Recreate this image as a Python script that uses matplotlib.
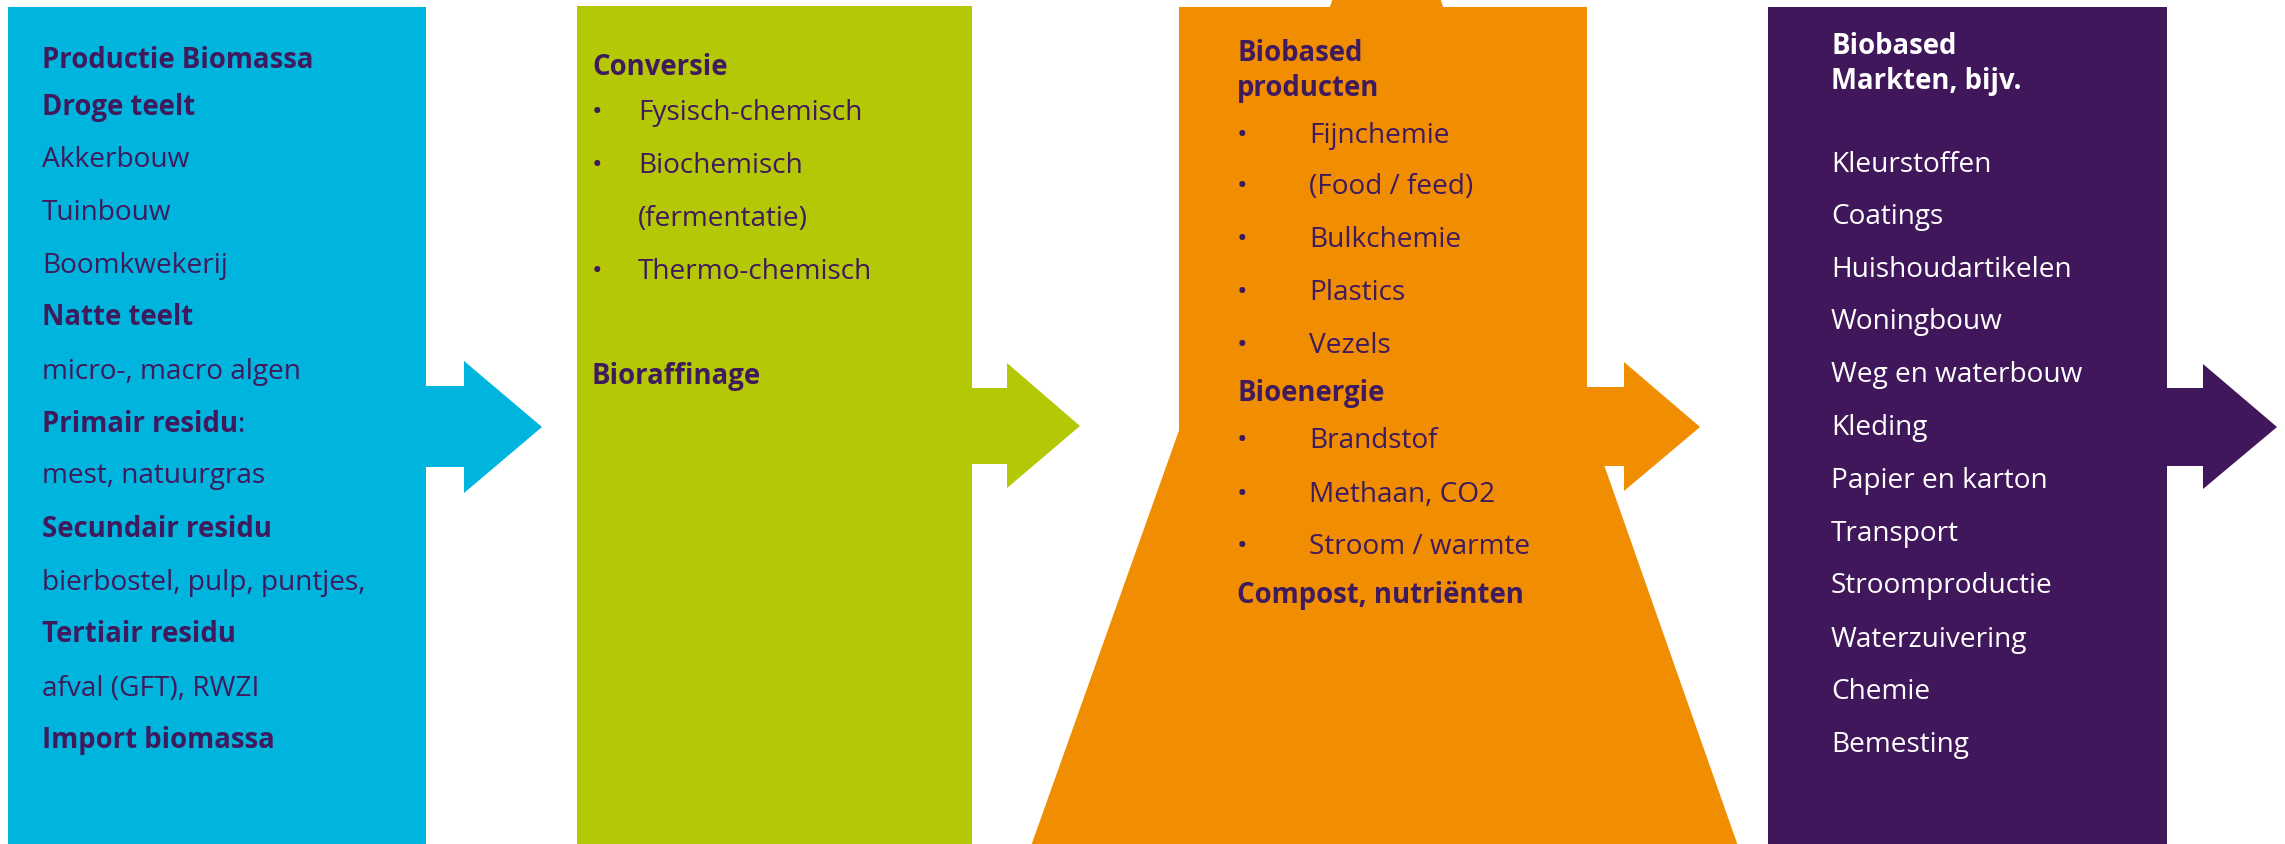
import matplotlib
matplotlib.use("Agg")
import matplotlib.pyplot as plt
from matplotlib.patches import Polygon, Rectangle

W, H = 2285, 844
BLUE = "#00B5DD"
GREEN = "#B4C805"
ORANGE = "#F18D00"
PURPLE = "#3F175A"
TXT = "#3F1A5C"
FONT = "Open Sans"
FS = 20.2
FSB = 19.8

# column texts: (text, style) where style is 'b' bold, 'r' regular, 'i' bullet item
col1 = [("Productie Biomassa", "b"), ("Droge teelt", "b"), ("Akkerbouw", "r"),
        ("Tuinbouw", "r"), ("Boomkwekerij", "r"), ("Natte teelt", "b"),
        ("micro-, macro algen", "r"), ("Primair residu", "b:"),
        ("mest, natuurgras", "r"), ("Secundair residu", "b"),
        ("bierbostel, pulp, puntjes,", "r"), ("Tertiair residu", "b"),
        ("afval (GFT), RWZI", "r"), ("Import biomassa", "b")]
col1_y = [68, 115, 167, 220, 273, 325, 379, 432, 483, 537, 590, 642, 696, 748]

col2 = [("Conversie", "b"), ("Fysisch-chemisch", "i"), ("Biochemisch", "i"),
        ("(fermentatie)", "c"), ("Thermo-chemisch", "i"), ("Bioraffinage", "b")]
col2_y = [75, 120, 173, 226, 279, 384]

col3 = [("Biobased", "b"), ("producten", "b"), ("Fijnchemie", "i"),
        ("(Food / feed)", "i"), ("Bulkchemie", "i"), ("Plastics", "i"),
        ("Vezels", "i"), ("Bioenergie", "b"), ("Brandstof", "i"),
        ("Methaan, CO2", "i"), ("Stroom / warmte", "i"),
        ("Compost, nutriënten", "b")]
col3_y = [61, 96, 143, 194, 247, 300, 353, 401, 448, 502, 554, 603]

col4 = [("Biobased", "b"), ("Markten, bijv.", "b"), ("Kleurstoffen", "r"),
        ("Coatings", "r"), ("Huishoudartikelen", "r"), ("Woningbouw", "r"),
        ("Weg en waterbouw", "r"), ("Kleding", "r"), ("Papier en karton", "r"),
        ("Transport", "r"), ("Stroomproductie", "r"), ("Waterzuivering", "r"),
        ("Chemie", "r"), ("Bemesting", "r")]
col4_y = [54, 89, 172, 224, 277, 329, 382, 435, 488, 541, 593, 647, 699, 752]

fig = plt.figure(figsize=(W / 100, H / 100), dpi=100)
ax = fig.add_axes([0, 0, 1, 1])
ax.set_xlim(0, W)
ax.set_ylim(H, 0)
ax.axis("off")


def arrow(x0, x1, x2, sy0, sy1, hy0, hy1, ty, color):
    pts = [(x0, sy0), (x1, sy0), (x1, hy0), (x2, ty), (x1, hy1), (x1, sy1), (x0, sy1)]
    ax.add_patch(Polygon(pts, closed=True, fc=color, ec="none"))


# boxes and arrows
ax.add_patch(Rectangle((8, 7), 418, H, fc=BLUE, ec="none"))
arrow(420, 464, 542, 386, 467, 361, 493, 427, BLUE)
ax.add_patch(Rectangle((577, 6), 395, H, fc=GREEN, ec="none"))
arrow(965, 1007, 1080, 388, 464, 363, 488, 426, GREEN)
ax.add_patch(Rectangle((1179, 7), 408, 430, fc=ORANGE, ec="none"))
ax.add_patch(Polygon([(1031, H + 2), (1333, -2), (1440, -2), (1738, H + 2)],
                     closed=True, fc=ORANGE, ec="none"))
arrow(1580, 1624, 1700, 387, 466, 362, 491, 427, ORANGE)
ax.add_patch(Rectangle((1768, 7), 399, H, fc=PURPLE, ec="none"))
arrow(2160, 2203, 2277, 388, 466, 364, 489, 427, PURPLE)

fig.canvas.draw()
renderer = fig.canvas.get_renderer()


def column(items, ys, x, xi, color):
    for (s, st), y in zip(items, ys):
        if st.startswith("b"):
            t = ax.text(x, y, s, fontsize=FSB, fontweight="bold", color=color,
                        family=FONT, va="baseline")
            if st == "b:":
                bb = t.get_window_extent(renderer)
                xe = ax.transData.inverted().transform((bb.x1, 0))[0]
                ax.text(xe, y, ":", fontsize=FS, color=color, family=FONT,
                        va="baseline")
        elif st == "i":
            ax.text(x, y, "•", fontsize=FS, color=color, family=FONT, va="baseline")
            ax.text(xi, y, s, fontsize=FS, color=color, family=FONT, va="baseline")
        elif st == "c":
            ax.text(xi, y, s, fontsize=FS, color=color, family=FONT, va="baseline")
        else:
            ax.text(x, y, s, fontsize=FS, color=color, family=FONT, va="baseline")


column(col1, col1_y, 42, 42, TXT)
column(col2, col2_y, 592, 638, TXT)
column(col3, col3_y, 1237, 1309, TXT)
column(col4, col4_y, 1831, 1831, "white")

fig.savefig("out.png", dpi=100)
